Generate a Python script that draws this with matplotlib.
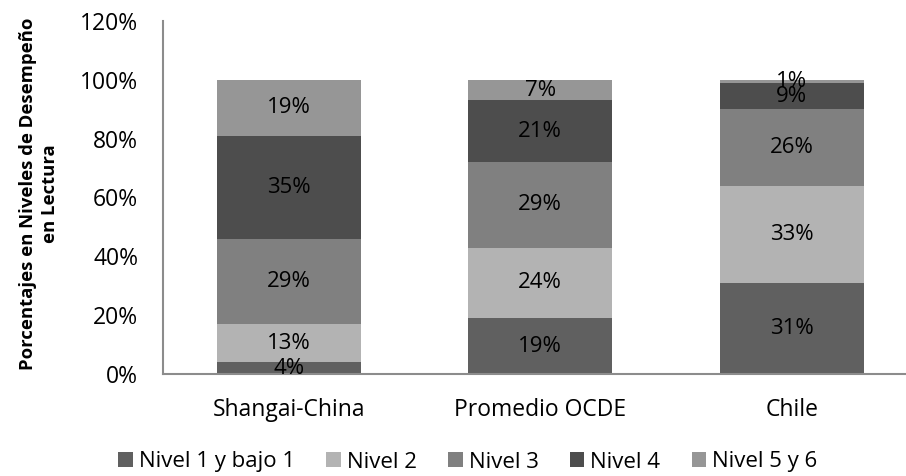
import matplotlib.pyplot as plt
from matplotlib.ticker import PercentFormatter

plt.rcParams['font.family'] = ['Open Sans', 'DejaVu Sans']

paises = ["Shangai-China", "Promedio OCDE", "Chile"]
niveles = ["Nivel 1 y bajo 1", "Nivel 2", "Nivel 3", "Nivel 4", "Nivel 5 y 6"]
nivel1 = [4, 19, 31]
nivel2 = [13, 24, 33]
nivel3 = [29, 29, 26]
nivel4 = [35, 21, 9]
nivel5 = [19, 7, 1]
colores = ["#606060", "#b3b3b3", "#808080", "#4d4d4d", "#969696"]

fig = plt.figure(figsize=(9.06, 4.76), dpi=100)
ax = fig.add_axes([163 / 906, 1 - 374 / 476, (905 - 163) / 906, (374 - 21) / 476])

x = range(len(paises))
base = [0, 0, 0]
for serie, nombre, color in zip([nivel1, nivel2, nivel3, nivel4, nivel5], niveles, colores):
    barras = ax.bar(x, serie, bottom=base, width=0.573, color=color, label=nombre)
    for b, v, y0 in zip(barras, serie, base):
        ax.text(b.get_x() + b.get_width() / 2, y0 + v / 2, f"{v}%",
                ha="center", va="center", fontsize=16, color="black")
    base = [a + v for a, v in zip(base, serie)]

ax.set_xlim(-0.5, -0.5 + 742 / 251.5)
ax.set_ylim(0, 120)
ax.set_yticks(range(0, 121, 20))
ax.yaxis.set_major_formatter(PercentFormatter(decimals=0))
ax.set_xticks(list(x))
ax.set_xticklabels(paises)
ax.tick_params(axis="both", length=0, labelsize=16.5)
ax.tick_params(axis="x", pad=17)
ax.tick_params(axis="y", pad=18)

for lado in ["top", "right"]:
    ax.spines[lado].set_visible(False)
for lado in ["left", "bottom"]:
    ax.spines[lado].set_color("#8c8c8c")
    ax.spines[lado].set_linewidth(1.5)

fig.text(39 / 906, 1 - 194 / 476, "Porcentajes en Niveles de Desempeño\nen Lectura",
         rotation=90, ha="center", va="center", fontsize=13.3, fontweight="bold",
         linespacing=1.3)

fig.legend(loc="center", bbox_to_anchor=(468 / 906, 1 - 462 / 476), ncol=5, frameon=False,
           fontsize=16, handlelength=0.65, handleheight=0.65, handletextpad=0.28,
           columnspacing=1.4, borderpad=0, borderaxespad=0)

fig.savefig("out.png", dpi=100)
